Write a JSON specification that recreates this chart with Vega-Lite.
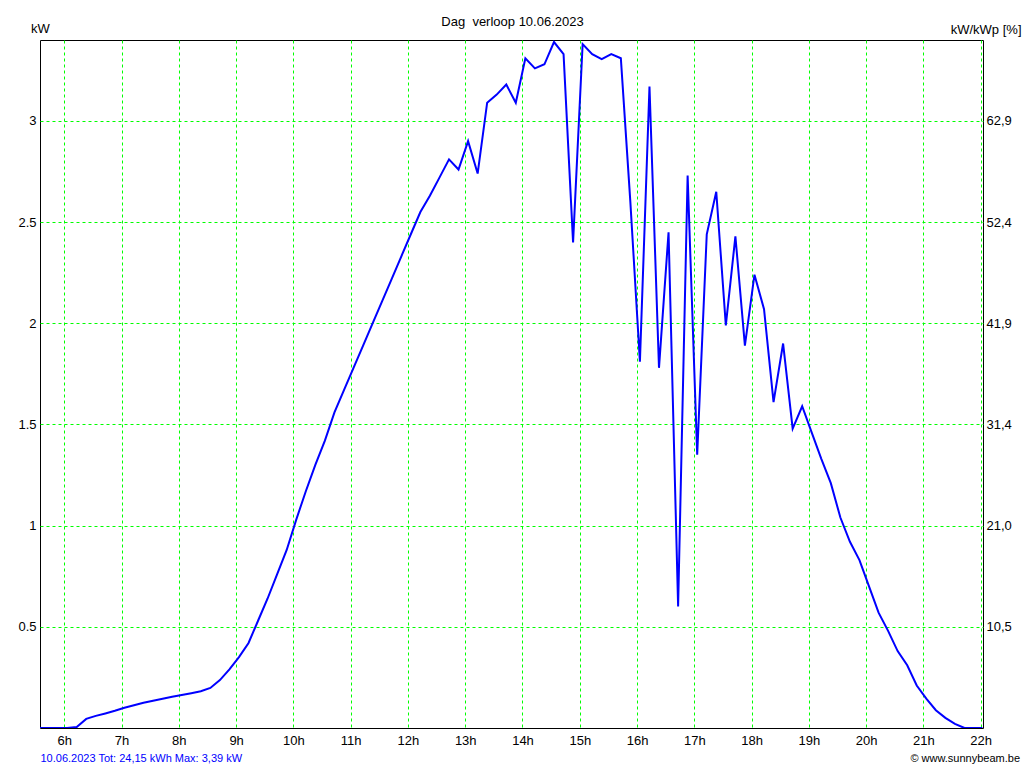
{
  "$schema": "https://vega.github.io/schema/vega-lite/v6.json",
  "width": 943,
  "height": 688,
  "autosize": {"type": "none"},
  "padding": {"left": 40, "top": 40, "right": 41, "bottom": 40},
  "background": "white",
  "title": {
    "text": "© www.sunnybeam.be",
    "orient": "bottom",
    "anchor": "end",
    "frame": "group",
    "font": "Liberation Sans",
    "fontSize": 11,
    "fontWeight": "normal",
    "color": "black",
    "dx": 37,
    "dy": -14
  },
  "data": {
    "values": [
      {"t": 5.576, "kw": 0},
      {"t": 5.717, "kw": 0},
      {"t": 5.883, "kw": 0},
      {"t": 6.05, "kw": 0},
      {"t": 6.217, "kw": 0.005},
      {"t": 6.383, "kw": 0.045},
      {"t": 6.55, "kw": 0.06},
      {"t": 6.717, "kw": 0.072},
      {"t": 6.883, "kw": 0.085},
      {"t": 7.05, "kw": 0.1},
      {"t": 7.217, "kw": 0.112},
      {"t": 7.383, "kw": 0.125},
      {"t": 7.55, "kw": 0.135},
      {"t": 7.717, "kw": 0.145},
      {"t": 7.883, "kw": 0.154},
      {"t": 8.05, "kw": 0.163},
      {"t": 8.217, "kw": 0.172},
      {"t": 8.383, "kw": 0.182},
      {"t": 8.55, "kw": 0.198},
      {"t": 8.717, "kw": 0.237},
      {"t": 8.883, "kw": 0.29},
      {"t": 9.05, "kw": 0.35},
      {"t": 9.217, "kw": 0.42},
      {"t": 9.383, "kw": 0.53},
      {"t": 9.55, "kw": 0.64},
      {"t": 9.717, "kw": 0.76},
      {"t": 9.883, "kw": 0.88},
      {"t": 10.05, "kw": 1.03},
      {"t": 10.217, "kw": 1.17},
      {"t": 10.383, "kw": 1.3},
      {"t": 10.55, "kw": 1.42},
      {"t": 10.717, "kw": 1.56},
      {"t": 10.883, "kw": 1.67},
      {"t": 11.05, "kw": 1.78},
      {"t": 11.217, "kw": 1.89},
      {"t": 11.383, "kw": 2.0},
      {"t": 11.55, "kw": 2.11},
      {"t": 11.717, "kw": 2.22},
      {"t": 11.883, "kw": 2.33},
      {"t": 12.05, "kw": 2.44},
      {"t": 12.217, "kw": 2.55},
      {"t": 12.383, "kw": 2.63},
      {"t": 12.55, "kw": 2.72},
      {"t": 12.717, "kw": 2.81},
      {"t": 12.883, "kw": 2.76},
      {"t": 13.05, "kw": 2.9},
      {"t": 13.217, "kw": 2.74},
      {"t": 13.383, "kw": 3.09},
      {"t": 13.55, "kw": 3.13},
      {"t": 13.717, "kw": 3.18},
      {"t": 13.883, "kw": 3.09},
      {"t": 14.05, "kw": 3.31},
      {"t": 14.217, "kw": 3.26},
      {"t": 14.383, "kw": 3.28},
      {"t": 14.55, "kw": 3.39},
      {"t": 14.717, "kw": 3.33},
      {"t": 14.883, "kw": 2.4},
      {"t": 15.05, "kw": 3.38},
      {"t": 15.217, "kw": 3.33},
      {"t": 15.383, "kw": 3.305},
      {"t": 15.55, "kw": 3.33},
      {"t": 15.717, "kw": 3.31},
      {"t": 15.883, "kw": 2.6},
      {"t": 16.05, "kw": 1.81},
      {"t": 16.217, "kw": 3.17},
      {"t": 16.383, "kw": 1.78},
      {"t": 16.55, "kw": 2.45},
      {"t": 16.717, "kw": 0.6},
      {"t": 16.883, "kw": 2.73},
      {"t": 17.05, "kw": 1.35},
      {"t": 17.217, "kw": 2.44},
      {"t": 17.383, "kw": 2.65},
      {"t": 17.55, "kw": 1.99},
      {"t": 17.717, "kw": 2.43},
      {"t": 17.883, "kw": 1.89},
      {"t": 18.05, "kw": 2.24},
      {"t": 18.217, "kw": 2.07},
      {"t": 18.383, "kw": 1.61},
      {"t": 18.55, "kw": 1.9},
      {"t": 18.717, "kw": 1.48},
      {"t": 18.883, "kw": 1.59},
      {"t": 19.05, "kw": 1.46},
      {"t": 19.217, "kw": 1.33},
      {"t": 19.383, "kw": 1.21},
      {"t": 19.55, "kw": 1.04},
      {"t": 19.717, "kw": 0.92},
      {"t": 19.883, "kw": 0.83},
      {"t": 20.05, "kw": 0.7},
      {"t": 20.217, "kw": 0.57},
      {"t": 20.383, "kw": 0.48},
      {"t": 20.55, "kw": 0.38},
      {"t": 20.717, "kw": 0.31},
      {"t": 20.883, "kw": 0.21},
      {"t": 21.05, "kw": 0.145},
      {"t": 21.217, "kw": 0.088},
      {"t": 21.383, "kw": 0.05},
      {"t": 21.55, "kw": 0.02},
      {"t": 21.717, "kw": 0},
      {"t": 21.883, "kw": 0},
      {"t": 22.03, "kw": 0}
    ]
  },
  "layer": [
    {
      "mark": {"type": "line", "color": "#0000FF", "strokeWidth": 2, "clip": true},
      "encoding": {
        "x": {
          "field": "t",
          "type": "quantitative",
          "scale": {"domain": [5.576, 22.04], "nice": false, "zero": false},
          "axis": {
            "orient": "bottom",
            "values": [6, 7, 8, 9, 10, 11, 12, 13, 14, 15, 16, 17, 18, 19, 20, 21, 22],
            "labelExpr": "datum.value + 'h'",
            "labelFlush": false,
            "labelPadding": 6,
            "grid": true,
            "title": "10.06.2023 Tot: 24,15 kWh Max: 3,39 kW",
            "titleColor": "#0000FF",
            "titleFontSize": 11,
            "titleX": 0,
            "titleY": 33,
            "titleAlign": "left",
            "titleBaseline": "alphabetic",
            "titleAngle": 0
          }
        },
        "y": {
          "field": "kw",
          "type": "quantitative",
          "scale": {"domain": [0, 3.4], "nice": false, "zero": true},
          "axis": {
            "orient": "left",
            "values": [0.5, 1, 1.5, 2, 2.5, 3],
            "labelExpr": "format(datum.value, '~g')",
            "labelFlush": false,
            "labelPadding": 4,
            "grid": true,
            "title": "kW",
            "titleAngle": 0,
            "titleX": 0,
            "titleY": -8,
            "titleAlign": "center",
            "titleBaseline": "alphabetic"
          }
        }
      }
    },
    {
      "mark": {"type": "line", "strokeOpacity": 0},
      "encoding": {
        "x": {
          "field": "t",
          "type": "quantitative",
          "axis": {
            "orient": "top",
            "labels": false,
            "grid": false,
            "title": "Dag\u00a0 verloop 10.06.2023",
            "titleX": 472,
            "titleY": -15,
            "titleAlign": "center",
            "titleBaseline": "alphabetic",
            "titleAngle": 0
          }
        },
        "y": {
          "field": "kw",
          "type": "quantitative",
          "axis": {
            "orient": "right",
            "values": [0.5, 1, 1.5, 2, 2.5, 3],
            "labelExpr": "replace(format(datum.value * 20.96, '.1f'), '.', ',')",
            "labelFlush": false,
            "labelPadding": 3,
            "grid": false,
            "title": "kW/kWp [%]",
            "titleAngle": 0,
            "titleX": 38,
            "titleY": -7,
            "titleAlign": "right",
            "titleBaseline": "alphabetic"
          }
        }
      }
    }
  ],
  "resolve": {"axis": {"x": "independent", "y": "independent"}},
  "config": {
    "view": {"stroke": "black", "strokeWidth": 1},
    "axis": {
      "domain": false,
      "ticks": false,
      "labelFont": "Liberation Sans",
      "labelFontSize": 13,
      "labelColor": "black",
      "titleFont": "Liberation Sans",
      "titleFontSize": 13,
      "titleFontWeight": "normal",
      "titleColor": "black",
      "gridColor": "#00FF00",
      "gridDash": [3, 3],
      "gridWidth": 1,
      "gridOpacity": 1
    }
  }
}
